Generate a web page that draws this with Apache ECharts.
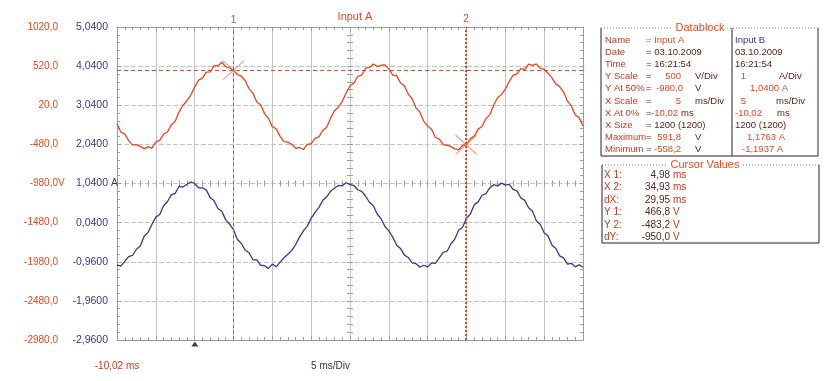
<!DOCTYPE html>
<html>
<head>
<meta charset="utf-8">
<title>Input A / Input B</title>
<script src="https://cdn.jsdelivr.net/npm/echarts@6/dist/echarts.min.js"></script>
<style>
  html, body { margin: 0; padding: 0; background: #fff; }
  #chart { width: 825px; height: 381px; }
</style>
</head>
<body>
<div id="chart"></div>
<script>
// scope settings: time in ms, Input A in V, Input B in A
const timeStartMs = -10.02
const timeEndMs = 49.98
const timeStepMs = 0.5
const voltMin = -2980, voltMax = 1020, voltPerDiv = 500
const ampMin = -2.96, ampMax = 5.04, ampPerDiv = 1

// Input A (V), one sample every 0.5 ms starting at -10,02 ms
const inputA = [
  -215, -325, -345, -432, -489, -484, -505, -537, -513, -527,
  -449, -429, -348, -322, -228, -184, -64, 20, 78, 149,
  252, 341, 366, 444, 447, 525, 522, 570, 510, 498,
  467, 410, 392, 336, 230, 176, 61, 26, -87, -147,
  -254, -282, -378, -446, -452, -480, -530, -520, -546, -481,
  -472, -402, -385, -299, -261, -145, -50, -5, 68, 175,
  270, 303, 390, 404, 493, 503, 548, 517, 531, 535,
  485, 404, 398, 305, 268, 163, 103, -15, -68, -185,
  -246, -287, -392, -412, -482, -491, -508, -537, -548, -494,
  -483, -406, -375, -285, -251, -151, -103, 19, 116, 159,
  226, 323, 404, 420, 487, 479, 544, 529, 548, 491,
  480, 430, 369, 293, 258, 188, 72, 12, -105, -138, -245
]

// Input B (A), same time base
const inputB = [
  -1.04, -1.07, -0.95, -0.83, -0.80, -0.64, -0.56, -0.31, -0.21, 0.00,
  0.18, 0.25, 0.47, 0.58, 0.75, 0.79, 0.97, 0.95, 1.02, 1.08,
  1.04, 0.93, 0.93, 0.87, 0.68, 0.60, 0.40, 0.33, 0.11, 0.00,
  -0.14, -0.39, -0.49, -0.66, -0.73, -0.91, -0.91, -1.05, -1.06, -1.13,
  -1.02, -1.09, -0.97, -0.86, -0.77, -0.67, -0.52, -0.33, -0.17, -0.05,
  0.15, 0.30, 0.43, 0.61, 0.70, 0.84, 0.92, 0.99, 0.98, 1.06,
  1.01, 0.99, 0.88, 0.84, 0.72, 0.56, 0.47, 0.26, 0.14, -0.06,
  -0.17, -0.33, -0.53, -0.62, -0.79, -0.85, -0.99, -1.01, -1.10, -1.05,
  -1.09, -0.99, -1.00, -0.86, -0.72, -0.69, -0.50, -0.38, -0.15, -0.08,
  0.15, 0.26, 0.50, 0.57, 0.74, 0.78, 0.93, 1.01, 0.98, 1.05,
  1.00, 1.02, 0.89, 0.85, 0.67, 0.61, 0.42, 0.33, 0.08, -0.01,
  -0.22, -0.30, -0.53, -0.62, -0.81, -0.86, -1.02, -1.00, -1.09, -1.04, -1.10
]

// cursors
const cursorX = [4.98, 34.93]
const cursorY = [466.8, -483.2]
const cursorNames = ['1', '2']
const triggerMs = 0

const RED = '#e4481f'
const BLUE = '#38388c'
const GRID = '#c4c4c4'
const FRAME = '#9c9c9c'
const LABEL = '#c4391b'
const VALUE = '#5a2418'
const FONT = '"Liberation Sans", Arial, sans-serif'

const pairs = (vals) => vals.map((v, i) => [+(timeStartMs + i * timeStepMs).toFixed(2), v])
const comma = (v, d) => v.toFixed(d).replace('.', ',')

// ---- datablock / cursor value tables ----
const blockRowY = [40, 52, 64, 76, 88, 101, 113, 125, 137, 149]
const blockLabels = ['Name', 'Date', 'Time', 'Y Scale', 'Y At 50%', 'X Scale', 'X At 0%', 'X Size', 'Maximum', 'Minimum']
// [x, text, align, color]
const blockCells = [
  [[646, '= Input A', 'left', RED], [735, 'Input B', 'left', BLUE]],
  [[646, '= 03.10.2009', 'left', VALUE], [735, '03.10.2009', 'left', VALUE]],
  [[646, '= 16:21:54', 'left', VALUE], [735, '16:21:54', 'left', VALUE]],
  [[646, '=', 'left', VALUE], [681, '500', 'right', RED], [695, 'V/Div', 'left', VALUE], [746, '1', 'right', RED], [779, 'A/Div', 'left', VALUE]],
  [[646, '=', 'left', VALUE], [683, '-980,0', 'right', RED], [695, 'V', 'left', VALUE], [750, '1,0400 A', 'left', RED]],
  [[646, '=', 'left', VALUE], [681, '5', 'right', RED], [695, 'ms/Div', 'left', VALUE], [746, '5', 'right', RED], [776, 'ms/Div', 'left', VALUE]],
  [[646, '=', 'left', VALUE], [678, '-10,02', 'right', RED], [681, 'ms', 'left', VALUE], [735, '-10,02', 'left', RED], [777, 'ms', 'left', VALUE]],
  [[646, '= 1200 (1200)', 'left', VALUE], [735, '1200 (1200)', 'left', VALUE]],
  [[646, '=', 'left', VALUE], [681, '591,8', 'right', RED], [695, 'V', 'left', VALUE], [747, '1,1763 A', 'left', RED]],
  [[646, '=', 'left', VALUE], [681, '-558,2', 'right', RED], [695, 'V', 'left', VALUE], [742, '-1,1937 A', 'left', RED]]
]
const cursorRowY = [175, 187, 200, 212, 225, 237]
const cursorLabels = ['X 1:', 'X 2:', 'dX:', 'Y 1:', 'Y 2:', 'dY:']
const cursorValues = ['4,98', '34,93', '29,95', '466,8', '-483,2', '-950,0']
const cursorUnits = ['ms', 'ms', 'ms', 'V', 'V', 'V']

function txt(x, y, text, fill, align, size) {
  return {
    type: 'text', silent: true, z: 10,
    style: { x, y, text, fill, align: align || 'left', verticalAlign: 'middle',
      font: (size || 9.5) + 'px ' + FONT }
  }
}

function box(x1, y1, x2, y2, title, titleX) {
  return [
    { type: 'line', silent: true, shape: { x1, y1, x2, y2: y1 }, style: { stroke: '#777', lineWidth: 1, lineDash: [1, 2] } },
    { type: 'polyline', silent: true, shape: { points: [[x1, y1], [x1, y2], [x2, y2], [x2, y1]] }, style: { stroke: '#222', lineWidth: 1, fill: null } },
    { type: 'text', silent: true, z: 11, style: { x: titleX, y: y1, text: title, fill: RED, align: 'center', verticalAlign: 'middle',
      font: '11px ' + FONT, backgroundColor: '#fff', padding: [0, 3] } }
  ]
}

const graphics = []
graphics.push(...box(601, 28, 818, 156, 'Datablock', 700))
graphics.push({ type: 'line', silent: true, shape: { x1: 732, y1: 28, x2: 732, y2: 156 }, style: { stroke: '#222', lineWidth: 1 } })
blockLabels.forEach((l, i) => {
  graphics.push(txt(605, blockRowY[i], l, LABEL))
  blockCells[i].forEach(c => graphics.push(txt(c[0], blockRowY[i], c[1], c[3], c[2])))
})
graphics.push(...box(602, 165, 819, 243, 'Cursor Values', 705))
cursorLabels.forEach((l, i) => {
  graphics.push(txt(604, cursorRowY[i], l, LABEL, 'left', 10))
  graphics.push(txt(670, cursorRowY[i], cursorValues[i], VALUE, 'right', 10))
  graphics.push(txt(673, cursorRowY[i], cursorUnits[i], LABEL, 'left', 10))
})

// ---- axes ----
const tickStyle = { color: FRAME, width: 1 }
function frameX(position, inside, onZero) {
  return {
    type: 'value', min: timeStartMs, max: timeEndMs, interval: 5, position,
    axisLine: onZero ? { show: false, onZero: true, onZeroAxisIndex: 4 } : { show: true, onZero: false, lineStyle: { color: FRAME } },
    axisTick: { show: true, inside, length: onZero ? 3 : 4, lineStyle: tickStyle },
    minorTick: { show: true, splitNumber: 5, length: 3, lineStyle: tickStyle },
    axisLabel: { show: false }, splitLine: { show: false }
  }
}
function frameY(position, inside, onZero) {
  return {
    type: 'value', min: 0, max: 8, interval: 1, position,
    axisLine: onZero ? { show: false, onZero: true, onZeroAxisIndex: 2 } : { show: true, onZero: false, lineStyle: { color: FRAME } },
    axisTick: { show: true, inside, length: onZero ? 3 : 4, lineStyle: tickStyle },
    minorTick: { show: true, splitNumber: 5, length: 3, lineStyle: tickStyle },
    axisLabel: { show: false }, splitLine: { show: false }
  }
}

const option = {
  animation: false,
  backgroundColor: '#fff',
  textStyle: { fontFamily: FONT },
  title: {
    text: 'Input A', left: 350, top: 6, textAlign: 'center',
    textStyle: { color: RED, fontSize: 11, fontWeight: 'normal', fontFamily: FONT }
  },
  grid: { left: 117, top: 27, width: 466, height: 313, outerBoundsMode: 'none', containLabel: false },
  xAxis: [
    {
      type: 'value', min: timeStartMs, max: timeEndMs, interval: 5, position: 'bottom',
      axisLine: { show: true, onZero: false, lineStyle: { color: FRAME } },
      axisTick: { show: true, inside: true, length: 4, lineStyle: tickStyle },
      minorTick: { show: true, splitNumber: 5, length: 3, lineStyle: tickStyle },
      splitLine: { show: true, lineStyle: { color: GRID, width: 1 } },
      axisLabel: {
        margin: 21, fontSize: 10, color: LABEL, fontFamily: FONT, showMinLabel: true,
        formatter: v => Math.abs(v - timeStartMs) < 1e-6 ? comma(timeStartMs, 2) + ' ms' : ''
      },
      name: '5 ms/Div', nameLocation: 'middle', nameGap: 21, nameMoveOverlap: false,
      nameTextStyle: { align: 'right', verticalAlign: 'top', color: '#333', fontSize: 10, fontFamily: FONT }
    },
    frameX('top', true, false),
    { type: 'value', min: -6, max: 6, show: false, axisLine: { onZero: false } },
    frameX('bottom', true, true),
    frameX('bottom', false, true)
  ],
  yAxis: [
    {
      type: 'value', min: voltMin, max: voltMax, interval: voltPerDiv, position: 'left', offset: 51,
      axisLine: { show: false, onZero: false }, axisTick: { show: false },
      splitLine: { show: true, lineStyle: { color: GRID, width: 1, type: [5, 2] } },
      axisLabel: {
        margin: 8, fontSize: 10, color: RED, fontFamily: FONT,
        formatter: v => Math.abs(v + 980) < 1e-6 ? '{n|' + comma(v, 1) + '}{u|V}' : comma(v, 1),
        rich: {
          n: { align: 'left', color: RED, fontSize: 10, fontFamily: FONT },
          u: { align: 'left', width: 0, color: RED, fontSize: 10, fontFamily: FONT }
        }
      }
    },
    {
      type: 'value', min: ampMin, max: ampMax, interval: ampPerDiv, position: 'left', offset: 0,
      axisLine: { show: false, onZero: false }, axisTick: { show: false }, splitLine: { show: false },
      axisLabel: {
        margin: 9, fontSize: 10.5, color: BLUE, fontFamily: FONT,
        formatter: v => Math.abs(v - 1.04) < 1e-6 ? '{n|' + comma(v, 4) + '}{u| A}' : comma(v, 4),
        rich: {
          n: { align: 'left', color: BLUE, fontSize: 10.5, fontFamily: FONT },
          u: { align: 'left', width: 0, color: BLUE, fontSize: 10.5, fontFamily: FONT }
        }
      }
    },
    frameY('left', true, false),
    frameY('right', true, false),
    { type: 'value', min: -4, max: 4, show: false, axisLine: { onZero: false } },
    frameY('left', true, true),
    frameY('left', false, true)
  ],
  graphic: graphics,
  series: [
    {
      name: 'Input A', type: 'line', xAxisIndex: 0, yAxisIndex: 0,
      data: pairs(inputA), showSymbol: false, symbol: 'none', z: 3,
      lineStyle: { color: RED, width: 1.3 },
      markLine: {
        silent: true, symbol: ['none', 'none'], animation: false,
        data: [
          { xAxis: cursorX[0], lineStyle: { color: RED, width: 1, type: [3, 3] },
            label: { show: true, position: 'end', formatter: cursorNames[0], color: RED, fontSize: 10, distance: 2 } },
          { xAxis: cursorX[1], lineStyle: { color: RED, width: 2, type: [2, 2] },
            label: { show: true, position: 'end', formatter: cursorNames[1], color: RED, fontSize: 10, distance: 3 } },
          { yAxis: cursorY[0], lineStyle: { color: RED, width: 1, type: [4, 3] }, label: { show: false } }
        ]
      }
    },
    {
      name: 'Input B', type: 'line', xAxisIndex: 0, yAxisIndex: 1,
      data: pairs(inputB), showSymbol: false, symbol: 'none', z: 3,
      lineStyle: { color: BLUE, width: 1.3 }
    },
    {
      name: 'cursor marks', type: 'scatter', xAxisIndex: 0, yAxisIndex: 0, z: 4, clip: false,
      data: cursorX.map((x, i) => [x, cursorY[i]]),
      symbol: 'path://M0 0L20 18M20 0L0 18', symbolSize: [21, 19],
      itemStyle: { color: 'rgba(0,0,0,0)', borderColor: '#ee7352', borderWidth: 1 }
    },
    {
      name: 'trigger', type: 'scatter', xAxisIndex: 0, yAxisIndex: 0, z: 4, clip: false,
      data: [[triggerMs, voltMin]], symbol: 'triangle', symbolSize: [7, 5], symbolOffset: [0, 4],
      itemStyle: { color: '#111' }
    }
  ]
}

const chart = echarts.init(document.getElementById('chart'), null, { renderer: 'canvas' })
chart.setOption(option)
</script>
</body>
</html>
